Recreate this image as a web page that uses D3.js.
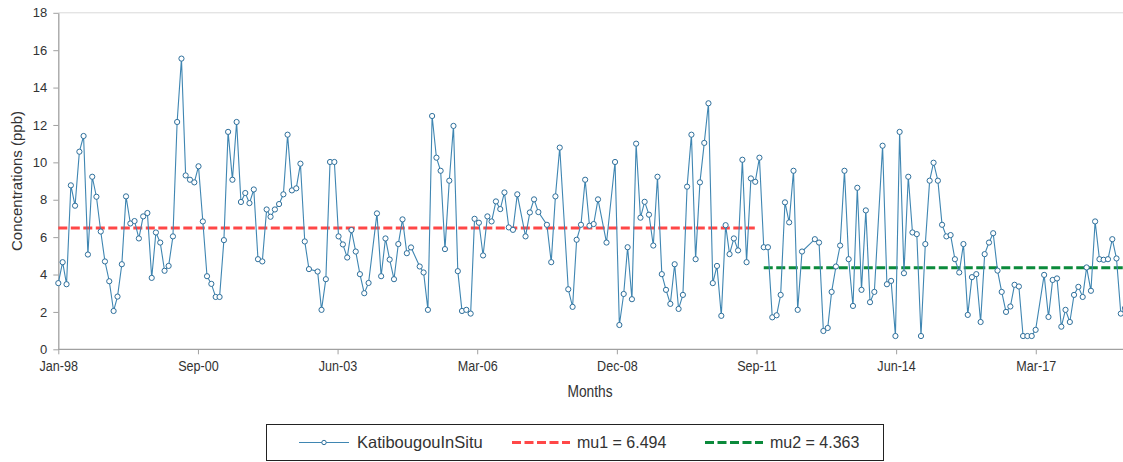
<!DOCTYPE html>
<html>
<head>
<meta charset="utf-8">
<script src="https://cdn.jsdelivr.net/npm/d3@7"></script>
<style>
body{margin:0;background:#fff}
svg text{font-family:"Liberation Sans",Arial,sans-serif;fill:#333}
</style>
</head>
<body>
<div id="chart"></div>
<script>
// monthly values from Jan-98, null = month without a sample
var values = [
  3.54,4.66,3.48,8.77,7.68,10.57,11.41,5.07,9.23,8.16,6.30,4.70,
  3.64,2.05,2.82,4.55,8.18,6.73,6.86,5.93,7.11,7.29,3.82,6.25,
  5.71,4.20,4.46,6.04,12.16,15.55,9.30,9.07,8.93,9.79,6.84,3.91,
  3.50,2.80,2.80,5.84,11.63,9.07,12.16,7.88,8.36,7.82,8.55,4.82,
  4.70,7.48,7.09,7.48,7.77,8.29,11.48,8.50,8.61,9.93,5.77,4.29,
  null,4.16,2.11,3.75,10.02,10.02,6.04,5.61,4.91,6.38,5.23,4.02,
  3.00,3.55,null,7.27,3.91,5.93,4.80,3.75,5.63,6.95,5.14,5.45,
  null,4.43,4.11,2.11,12.48,10.25,9.55,5.36,9.02,11.95,4.18,2.05,
  2.11,1.91,6.98,6.77,5.02,7.11,6.84,7.91,7.50,8.39,6.52,6.39,
  8.29,null,6.04,7.32,8.02,7.34,null,6.66,4.66,8.18,10.79,null,
  3.21,2.27,5.86,6.66,9.07,6.61,6.70,8.02,null,5.71,null,10.02,
  1.30,2.96,5.46,2.68,11.00,7.04,7.89,7.20,5.55,9.23,4.02,3.18,
  2.43,4.55,2.16,2.91,8.70,11.48,4.82,8.93,11.04,13.16,3.54,4.46,
  1.79,6.64,5.09,5.93,5.29,10.14,4.66,9.14,8.96,10.25,5.46,5.46,
  1.71,1.82,2.91,7.86,6.79,9.55,2.11,5.23,null,null,5.89,5.71,
  0.98,1.14,3.07,4.43,5.55,9.55,4.82,2.32,8.64,3.18,7.43,2.52,
  3.07,null,10.89,3.48,3.66,0.71,11.63,4.07,9.23,6.25,6.16,0.71,
  5.63,9.02,9.98,9.02,6.66,6.04,6.11,4.82,4.11,5.63,1.84,3.86,
  4.02,1.46,5.09,5.71,6.21,4.21,3.07,2.00,2.29,3.45,3.36,0.71,
  0.71,0.71,1.04,null,3.98,1.73,3.71,3.79,1.21,2.11,1.46,2.91,
  3.34,2.80,4.38,3.13,6.84,4.82,4.79,4.82,5.89,4.86,1.91,2.20
]
var seriesName = "KatibougouInSitu"

var muNames = ["mu1 = 6.494","mu2 = 4.363"]
var muValues = [6.494,4.363]
var muFrom = [0,166]   // month index
var muTo = [164,251]
var muColours = ["#ff4747","#0b8a3b"]

var yTicks = d3.range(0,19,2)
var xTickStepDays = 1000

var width = 1123, height = 462
var svg = d3.select("#chart").append("svg").attr("width",width).attr("height",height)

var start = new Date(1998,0,1)
function monthDate(i){return new Date(1998,i,1)}

var x = d3.scaleTime().domain([start,new Date(2018,11,1)]).range([58.3,1125])
var y = d3.scaleLinear().domain([0,18]).range([349.3,12.8])

var plot = svg.append("g")

// top frame line
plot.append("line")
  .attr("x1",x.range()[0]).attr("x2",width)
  .attr("y1",y(18)).attr("y2",y(18))
  .style("stroke","#d9d9d9").style("stroke-width",1)

var yAxis = plot.append("g")
  .attr("transform","translate("+x.range()[0]+",0)")
  .call(d3.axisLeft(y).tickValues(yTicks).tickSize(5).tickSizeOuter(0).tickPadding(6))
yAxis.selectAll("text").style("font-size","13px")

var xTicks = d3.range(0,8).map(k=>d3.timeDay.offset(start,k*xTickStepDays))
var xAxis = plot.append("g")
  .attr("transform","translate(0,"+y(0)+")")
  .call(d3.axisBottom(x).tickValues(xTicks).tickFormat(d3.timeFormat("%b-%y")).tickSize(5).tickSizeOuter(0).tickPadding(6))
// labels in the original are squeezed sideways
xAxis.selectAll("text").style("font-size","15px").attr("transform","scale(0.84,1)")

svg.selectAll(".domain").style("stroke","#a0a0a0").style("stroke-width",1.3)
svg.selectAll(".tick line").style("stroke","#a0a0a0")
xAxis.select(".domain").attr("d","M"+x.range()[0]+",0H"+width)

// mean lines
muValues.forEach(function(v,k){
  plot.append("line")
    .attr("x1",x(monthDate(muFrom[k]))).attr("x2",x(monthDate(muTo[k])))
    .attr("y1",y(v)).attr("y2",y(v))
    .style("stroke",muColours[k]).style("stroke-width",3)
    .style("stroke-dasharray","9,3.5")
})

var data = values.map((v,i)=>({date:monthDate(i),value:v})).filter(d=>d.value!=null)

var line = d3.line().x(d=>x(d.date)).y(d=>y(d.value))
plot.append("path").datum(data)
  .attr("d",line)
  .style("fill","none").style("stroke","#3f86b2").style("stroke-width",1.1)

plot.selectAll("circle.pt").data(data).enter()
  .append("circle").classed("pt",true)
  .attr("cx",d=>x(d.date)).attr("cy",d=>y(d.value)).attr("r",2.6)
  .style("fill","#fff").style("stroke","#2e6f9b").style("stroke-width",1)

// axis titles
svg.append("text")
  .attr("transform","translate(590,397) scale(0.86,1)").attr("text-anchor","middle")
  .style("font-size","16px").text("Months")
svg.append("text")
  .attr("transform","translate(22,181) rotate(-90)").attr("text-anchor","middle")
  .style("font-size","15px").text("Concentrations (ppb)")

// legend
var legend = svg.append("g")
legend.append("rect").attr("x",266.5).attr("y",424.5).attr("width",617).attr("height",36)
  .style("fill","#fff").style("stroke","#222").style("stroke-width",1)

var ly = 442.5
legend.append("line").attr("x1",299).attr("x2",349).attr("y1",ly).attr("y2",ly)
  .style("stroke","#3f86b2").style("stroke-width",1.1)
legend.append("circle").attr("cx",324).attr("cy",ly).attr("r",2.2)
  .style("fill","#fff").style("stroke","#2e6f9b")
legend.append("text").attr("x",357).attr("y",ly+5.5).style("font-size","16.5px").text(seriesName)

var legX = [512,705]
muNames.forEach(function(n,k){
  legend.append("line").attr("x1",legX[k]).attr("x2",legX[k]+58).attr("y1",ly).attr("y2",ly)
    .style("stroke",muColours[k]).style("stroke-width",3).style("stroke-dasharray","9,3.5")
  legend.append("text").attr("x",legX[k]+65).attr("y",ly+5.5).style("font-size","16px").text(n)
})
</script>
</body>
</html>
